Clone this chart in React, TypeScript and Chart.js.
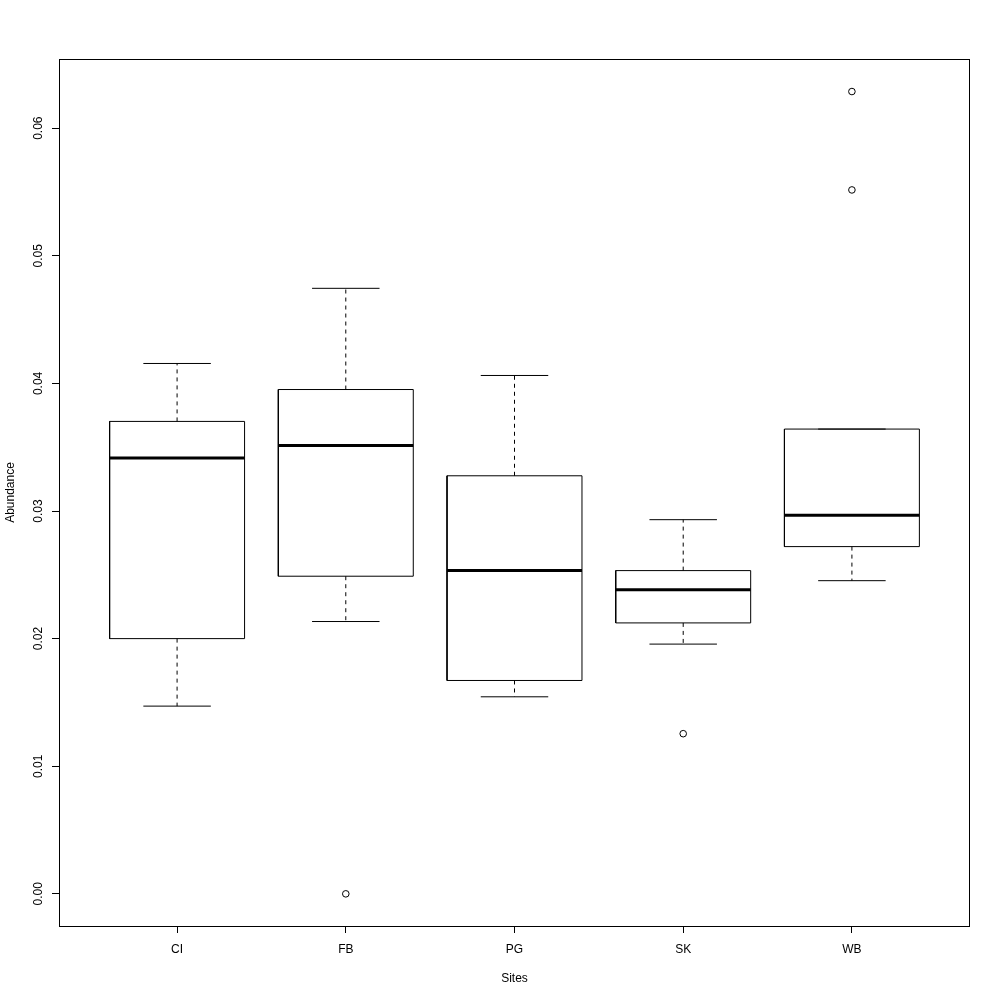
import { useEffect, useRef } from 'react';
import { Chart, registerables } from 'chart.js';

Chart.register(...registerables);

const sites = ['CI', 'FB', 'PG', 'SK', 'WB'];
const whiskerLow = [0.01471, 0.02134, 0.01544, 0.01957, 0.02454];
const q1 = [0.02000, 0.02489, 0.01672, 0.02123, 0.02721];
const median = [0.03415, 0.03514, 0.02533, 0.02382, 0.02966];
const q3 = [0.03702, 0.03952, 0.03276, 0.02533, 0.03642];
const whiskerHigh = [0.04156, 0.04745, 0.04062, 0.02932, 0.03642];
const outlierSite = ['FB', 'SK', 'WB', 'WB'];
const outlierValue = [0.0, 0.01255, 0.06287, 0.05516];
const yTicks = [0, 0.01, 0.02, 0.03, 0.04, 0.05, 0.06];
const yMin = -0.00252;
const yMax = 0.06542;

const FONT = "'Liberation Sans', Arial, Helvetica, sans-serif";

export default function App() {
  const ref = useRef<HTMLCanvasElement | null>(null);

  useEffect(() => {
    const canvas = ref.current;
    if (!canvas) return;

    const whiskers: any[] = [];
    const caps: any[] = [];
    const boxes: any[] = [];
    const medians: any[] = [];
    sites.forEach((_, i) => {
      const p = i + 1;
      whiskers.push({ x: p, y: q3[i] }, { x: p, y: whiskerHigh[i] }, { x: p, y: null });
      whiskers.push({ x: p, y: q1[i] }, { x: p, y: whiskerLow[i] }, { x: p, y: null });
      caps.push({ x: p - 0.2, y: whiskerHigh[i] }, { x: p + 0.2, y: whiskerHigh[i] }, { x: p, y: null });
      caps.push({ x: p - 0.2, y: whiskerLow[i] }, { x: p + 0.2, y: whiskerLow[i] }, { x: p, y: null });
      boxes.push(
        { x: p - 0.4, y: q1[i] },
        { x: p + 0.4, y: q1[i] },
        { x: p + 0.4, y: q3[i] },
        { x: p - 0.4, y: q3[i] },
        { x: p - 0.4, y: q1[i] },
        { x: p, y: null }
      );
      medians.push({ x: p - 0.4, y: median[i] }, { x: p + 0.4, y: median[i] }, { x: p, y: null });
    });
    const outliers = outlierSite.map((s, k) => ({ x: sites.indexOf(s) + 1, y: outlierValue[k] }));

    const lineBase = {
      type: 'line' as const,
      borderColor: '#000',
      pointRadius: 0,
      pointHoverRadius: 0,
      spanGaps: false,
      tension: 0,
      fill: false,
    };

    const framePlugin = {
      id: 'frame',
      beforeDraw(chart: any) {
        const c = chart.ctx;
        c.save();
        c.fillStyle = '#fff';
        c.fillRect(0, 0, chart.width, chart.height);
        c.restore();
      },
      afterDraw(chart: any) {
        const { left, top, right, bottom } = chart.chartArea;
        const c = chart.ctx;
        c.save();
        c.strokeStyle = '#000';
        c.lineWidth = 1;
        c.strokeRect(left + 0.5, top + 0.5, right - left - 1, bottom - top);
        c.restore();
      },
    };

    const chart = new Chart(canvas, {
      type: 'line',
      data: {
        datasets: [
          { ...lineBase, data: whiskers, borderWidth: 1, borderDash: [4, 4] },
          { ...lineBase, data: caps, borderWidth: 1 },
          { ...lineBase, data: boxes, borderWidth: 1 },
          { ...lineBase, data: medians, borderWidth: 3 },
          {
            type: 'scatter' as const,
            data: outliers,
            showLine: false,
            pointStyle: 'circle',
            pointRadius: 3.3,
            pointBorderWidth: 1,
            borderColor: '#000',
            backgroundColor: 'rgba(0,0,0,0)',
            pointBackgroundColor: 'rgba(0,0,0,0)',
          } as any,
        ],
      },
      options: {
        responsive: false,
        animation: false,
        events: [],
        layout: { padding: { top: 59, right: 30, left: 0, bottom: 0 } },
        plugins: { legend: { display: false }, tooltip: { enabled: false } },
        scales: {
          x: {
            type: 'linear',
            min: 0.3,
            max: 5.7,
            afterBuildTicks(scale: any) {
              scale.ticks = sites.map((_, i) => ({ value: i + 1 }));
            },
            afterFit(scale: any) {
              scale.height = 74;
            },
            border: { display: false },
            grid: { drawOnChartArea: false, drawTicks: true, tickLength: 7, color: '#000', lineWidth: 1 },
            ticks: {
              autoSkip: false,
              maxRotation: 0,
              minRotation: 0,
              padding: 9,
              color: '#000',
              font: { family: FONT, size: 12 },
              callback: (v: any) => sites[Math.round(Number(v)) - 1] ?? '',
            },
            title: {
              display: true,
              text: 'Sites',
              color: '#000',
              font: { family: FONT, size: 12 },
              padding: { top: 0, bottom: 14 },
            },
          },
          y: {
            type: 'linear',
            min: yMin,
            max: yMax,
            afterBuildTicks(scale: any) {
              scale.ticks = yTicks.map((v) => ({ value: v }));
            },
            afterFit(scale: any) {
              scale.width = 59;
            },
            border: { display: false },
            grid: { drawOnChartArea: false, drawTicks: true, tickLength: 7, color: '#000', lineWidth: 1 },
            ticks: {
              autoSkip: false,
              minRotation: 90,
              maxRotation: 90,
              crossAlign: 'center',
              padding: 2,
              color: '#000',
              font: { family: FONT, size: 12 },
              callback: (v: any) => Number(v).toFixed(2),
            },
            title: {
              display: true,
              text: 'Abundance',
              color: '#000',
              font: { family: FONT, size: 12 },
              padding: { top: 3, bottom: 0 },
            },
          },
        },
      },
      plugins: [framePlugin],
    } as any);

    return () => chart.destroy();
  }, []);

  return (
    <div style={{ position: 'fixed', left: 0, top: 0, width: 1000, height: 1000, background: '#fff' }}>
      <canvas ref={ref} width={1000} height={1000} style={{ display: 'block' }} />
    </div>
  );
}
